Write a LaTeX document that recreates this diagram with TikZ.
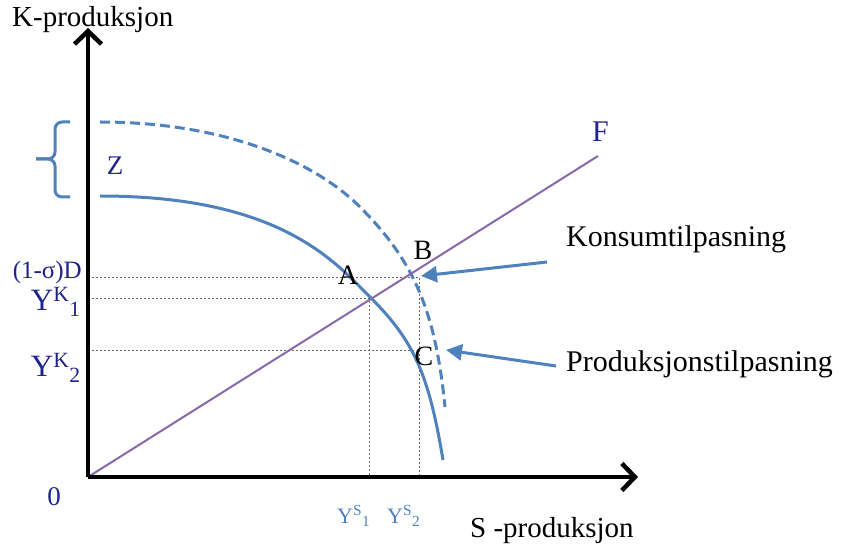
\documentclass[tikz,border=0pt]{standalone}
\usepackage{fontspec}
\setmainfont{Liberation Serif}
\definecolor{inkblue}{RGB}{30,36,140}
\definecolor{curveblue}{RGB}{79,129,189}
\definecolor{linepurple}{RGB}{135,105,170}
\definecolor{guidegray}{RGB}{105,105,105}
\usetikzlibrary{arrows.meta}

\begin{document}
\begin{tikzpicture}[x=1pt, y=-1pt,
    axis/.style={line width=4.5pt, -{Straight Barb[length=13pt, width=27pt]}},
    ppf/.style={curveblue, line width=3pt},
    guide/.style={guidegray, line width=0.9pt, dash pattern=on 2pt off 2pt},
    pointer/.style={curveblue, line width=3pt, -{Triangle[length=16pt, width=16pt]}},
    axislabel/.style={font=\fontsize{29}{32}\selectfont, inner sep=0pt},
    notelabel/.style={font=\fontsize{30}{34}\selectfont, inner sep=0pt},
    pointlabel/.style={font=\fontsize{28}{32}\selectfont, inner sep=0pt, anchor=base},
    levellabel/.style={inkblue, inner sep=0pt, anchor=base east},
  ]
    \useasboundingbox (0,0) rectangle (847,545);
    \coordinate (O) at (88,477);
    \coordinate (A) at (369,298);
    \coordinate (B) at (419,277);
    \coordinate (C) at (416,350);
    \coordinate (Fend) at (598,156);
    % hjelpelinjer
    \draw[guide] (O |- B) -- (B) -- (B |- O);
    \draw[guide] (O |- A) -- (A) -- (A |- O);
    \draw[guide] (O |- C) -- (C);
    % kurvene
    \draw[ppf] (100,196) .. controls (280,196) and (334.6,261.6) .. (370,297)
      .. controls (414,341) and (428.6,373.6) .. (443,460);
    \draw[ppf, dash pattern=on 10pt off 5pt] (100,122) .. controls (222,122) and (313,160) .. (360,207)
      .. controls (414,261) and (435.4,311) .. (445,407);
    \draw[linepurple, line width=2pt] (O) -- (Fend);
    \draw[ppf, rounded corners=7pt] (70,122) -- (55,122) -- (55,159) -- (36,159);
    \draw[ppf, rounded corners=7pt] (36,159) -- (55,159) -- (55,197) -- (70,197);
    % aksene
    \coordinate (ytop) at (88,28);
    \coordinate (xend) at (638,477);
    \draw[axis] (O) -- (ytop);
    \draw[axis] (O) -- (xend);
    \node[axislabel, anchor=base west] (kprod) at (12,27) {K-produksjon};
    \node[axislabel, anchor=base west] (sprod) at (470,537) {S -produksjon};
    \node[inkblue, font=\fontsize{27}{30}\selectfont, inner sep=0pt, anchor=base] (zero) at (54,505) {0};
    \node[inkblue, font=\fontsize{30}{34}\selectfont, inner sep=0pt, anchor=base west] (flabel) at (592,142) {F};
    \node[inkblue, font=\fontsize{27}{30}\selectfont, inner sep=0pt, anchor=base] (zlabel) at (115,175) {Z};
    % nivaaer
    \node[levellabel, font=\fontsize{25}{28}\selectfont] (dlevel) at (82,279) {(1-σ)D};
    \node[levellabel, font=\fontsize{31}{34}\selectfont] (yk1) at (81,311) {Y\textsuperscript{K}\textsubscript{1}};
    \node[levellabel, font=\fontsize{31}{34}\selectfont] (yk2) at (81,377) {Y\textsuperscript{K}\textsubscript{2}};
    \node[curveblue, font=\fontsize{22}{26}\selectfont, inner sep=0pt, anchor=base west] (ys1) at (337,523) {Y\textsuperscript{S}\textsubscript{1}};
    \node[curveblue, font=\fontsize{22}{26}\selectfont, inner sep=0pt, anchor=base west] (ys2) at (387,523) {Y\textsuperscript{S}\textsubscript{2}};
    % punktene
    \node[pointlabel] (alabel) at (348,285) {A};
    \node[pointlabel] (blabel) at (423,260) {B};
    \node[pointlabel] (clabel) at (424,366) {C};
    % forklaringer
    \node[notelabel, anchor=base west] (konsum) at (566,247) {Konsumtilpasning};
    \node[notelabel, anchor=base west] (produksjon) at (566,372) {Produksjonstilpasning};
    \coordinate (konsumtail) at (547,262);
    \coordinate (konsumtip) at (421,276);
    \coordinate (prodtail) at (556,366);
    \coordinate (prodtip) at (446,350);
    \draw[pointer] (konsumtail) -- (konsumtip);
    \draw[pointer] (prodtail) -- (prodtip);
  \end{tikzpicture}
\end{document}
